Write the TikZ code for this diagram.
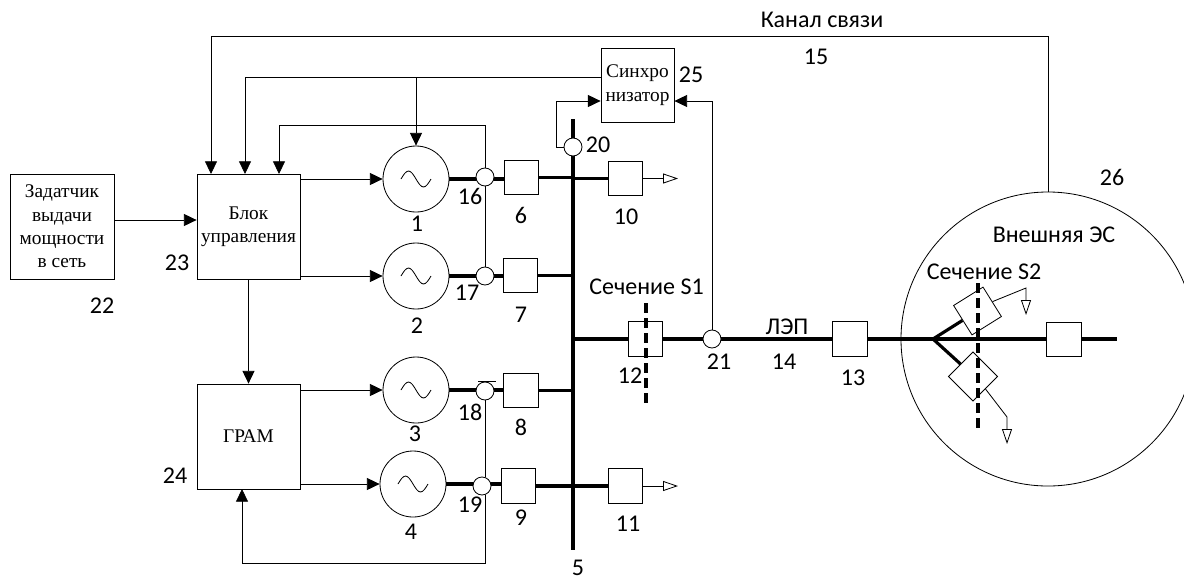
\documentclass[tikz,border=0pt]{standalone}
\usepackage{fontspec}
\setmainfont{Carlito}
\newfontfamily\blockfont{Liberation Serif}
\usetikzlibrary{arrows.meta}
\begin{document}
\begin{tikzpicture}[x=0.03cm, y=-0.03cm,
    sig/.style={line width=0.7pt, -{Triangle[length=0.38cm, width=0.36cm]}},
    wire/.style={line width=0.7pt},
    power/.style={line width=2.7pt},
    cut/.style={line width=2.7pt, dash pattern=on 0.3cm off 0.15cm},
    load/.style={line width=0.7pt, -{Triangle[open, fill=white, length=0.45cm, width=0.3cm]}},
    block/.style={draw, line width=0.7pt, fill=white, inner sep=0pt, align=center, font=\blockfont\fontsize{16.5}{20}\selectfont},
    switch/.style={draw, line width=0.7pt, fill=white, minimum size=1.04cm, inner sep=0pt},
    gen/.style={draw, circle, line width=0.7pt, fill=white, minimum size=1.98cm, inner sep=0pt},
    sensor/.style={draw, circle, line width=0.7pt, fill=white, minimum size=0.54cm, inner sep=0pt},
    lbl/.style={inner sep=0pt, align=center, font=\fontsize{20.5}{24}\selectfont}]
  \useasboundingbox (0,0) rectangle (1184,580);
  % control blocks
  \node[block, minimum width=3.12cm, minimum height=3.15cm] (setter) at (62,226.5) {Задатчик\\выдачи\\мощности\\в сеть};
  \node[block, minimum width=3.09cm, minimum height=3.15cm] (ctrl) at (248.5,226.5) {Блок\\управления};
  \node[block, minimum width=3.09cm, minimum height=3.15cm] (gram) at (248.5,436.5) {ГРАМ};
  \node[block, minimum width=2.19cm, minimum height=2.22cm] (sync) at (637.5,85) {Синхро\\низатор};
  % external system goes under its own bus
  \node[draw, circle, line width=0.7pt, minimum size=8.82cm, inner sep=0pt] (ext) at (1048,339) {};
  % buses
  \coordinate (bustop) at (573,119);
  \coordinate (busend) at (573,550);
  \draw[power] (bustop) -- (busend);
  \coordinate (fork) at (933,339);
  \coordinate (tail) at (1117,339);
  \draw[power] (573,339) -- (tail);
  \foreach \n/\x/\y in {1/416/179, 2/416/276, 3/416/390, 4/413/484}
    \node[gen] (gen\n) at (\x,\y) {};
  \foreach \n/\x/\y in {6/521.5/177.5, 7/520.5/275.5, 8/521/390.5, 9/518.5/486,
      10/625.5/178.5, 11/625.5/486, 12/645.5/339, 13/850/339, 27/1064/339.5}
    \node[switch] (sw\n) at (\x,\y) {};
  % generator feeders
  \foreach \g/\s in {1/6, 2/7, 3/8, 4/9}
    \draw[power] (gen\g) -- (gen\g -| sw\s.west) (sw\s.east) -- (sw\s.east -| bustop);
  \draw[power] (sw10.west -| bustop) -- (sw10.west);
  \draw[power] (sw11.west -| bustop) -- (sw11.west);
  \foreach \n in {1,2,3,4}
    \draw[line width=0.7pt, shift={(gen\n.center)}] (-15,0) sin (-7.5,-8) cos (0,0) sin (7.5,8) cos (15,0);
  % sensors
  \foreach \n/\x/\y in {16/485/177, 17/485/276, 18/485/391, 19/482/486, 20/573/147, 21/712/339}
    \node[sensor] (ct\n) at (\x,\y) {};
  % second section inside the external system
  \node[switch, rotate=32] (swa) at (977.5,311) {};
  \node[switch, rotate=45] (swb) at (973,376.5) {};
  \draw[power] (fork) -- (swa.west);
  \draw[power] (fork) -- (swb.north);
  \coordinate (bendb) at (1026,288);
  \coordinate (bendc) at (1007,417);
  \coordinate (tipb) at (1026,315);
  \coordinate (tipc) at (1007,444);
  \draw[load] (swa.east) -- (bendb) -- (tipb);
  \draw[load] (swb.south) -- (bendc) -- (tipc);
  \draw[cut] (978,283) -- (978,428);
  \draw[cut] (646,303) -- (646,403);
  % outgoing loads
  \coordinate (loada) at (678,178.5);
  \coordinate (loadb) at (678,486);
  \draw[load] (sw10.east) -- (loada);
  \draw[load] (sw11.east) -- (loadb);
  % control links
  \draw[sig] (setter.east |- 0,220) -- (ctrl.west |- 0,220);
  \draw[sig] (ctrl.east |- gen1) -- (gen1.west);
  \draw[sig] (ctrl.east |- gen2) -- (gen2.west);
  \draw[sig] (gram.east |- gen3) -- (gen3.west);
  \draw[sig] (gram.east |- gen4) -- (gen4.west);
  \draw[sig] (ctrl) ++(0,52.5) -- (gram.north);
  \coordinate (top) at (1048,36);
  \draw[sig] (ext.north) -- (top) -- (211,36) -- (211,174);
  \draw[sig] (sync.west |- 0,77) -- (245,77) -- (245,174);
  \draw[sig] (gen1.north |- 0,77) -- (gen1.north);
  \draw[sig] (ct16.north) -- (485,125) -- (279,125) -- (279,174);
  \draw[wire] (ct16.south) -- (ct17.north);
  \draw[wire] (ct18.south) -- (ct19.north -| ct18);
  \draw[sig] (ct19.south -| ct18) -- (485,563) -- (242,563) -- (242,489);
  \draw[wire] (478,381) -- (496,381);
  \draw[sig] (ct20.west) -- (556,147) -- (556,101) -- (sync.west |- 0,101);
  \draw[sig] (ct21.north) -- (712,101) -- (sync.east |- 0,101);
  % labels
  \foreach \t/\x/\y in {1/417/224, 2/417/326, 3/415/434, 4/411/532, 5/578/568, 6/521/215, 7/521/315,
      8/521/427, 9/521/518, 10/626/217, 11/628/524, 12/630/376, 13/853/378, 14/784/362, 15/816/57,
      16/470/196, 17/467/293, 18/470/412, 19/470/505, 20/598/145, 21/719/362, 22/102/306, 23/177/263,
      24/175/476, 25/691/75, 26/1112/177}
    \node[lbl] (lbl\t) at (\x,\y) {\t};
  \node[lbl] (lblline) at (787,327) {ЛЭП};
  \node[lbl] (lblchan) at (822,20) {Канал связи};
  \node[lbl] (lblext) at (1054,235) {Внешняя ЭС};
  \node[lbl] (lblsa) at (646.5,287) {Сечение S1};
  \node[lbl] (lblsb) at (984,272) {Сечение S2};
\end{tikzpicture}
\end{document}
